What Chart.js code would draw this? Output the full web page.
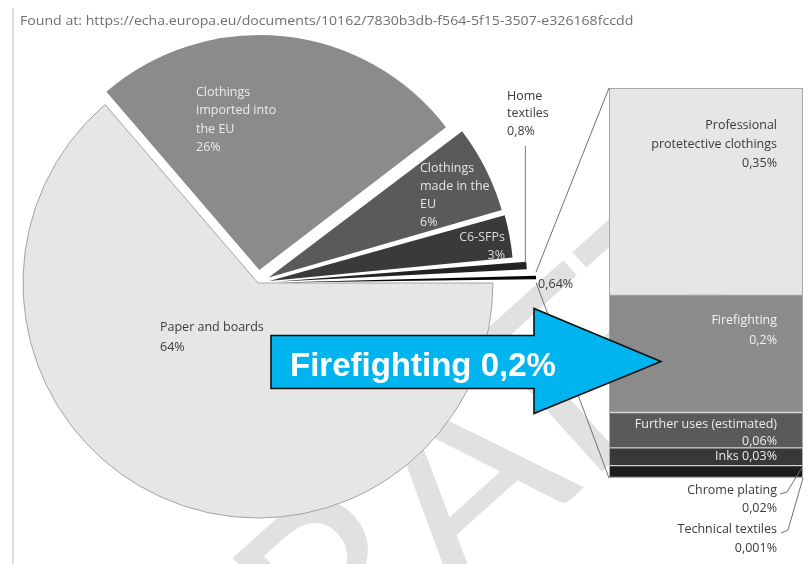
<!DOCTYPE html>
<html>
<head>
<meta charset="utf-8">
<script src="https://cdn.jsdelivr.net/npm/chart.js@4.4.1/dist/chart.umd.min.js"></script>
<style>
  html, body { margin: 0; padding: 0; background: #fff; }
  #wrap { position: relative; width: 811px; height: 564px; overflow: hidden; }
  #wrap canvas { position: absolute; left: 0; top: 0; }
  #rule { position: absolute; left: 12px; top: 8px; bottom: 0; width: 2px; background: #dddddd; }
  #src { position: absolute; left: 20px; top: 11px; font: 13px "Open Sans"; color: #707070;
         white-space: nowrap; transform-origin: 0 0; }
</style>
</head>
<body>
<div id="wrap">
  <canvas id="pie" width="811" height="564"></canvas>
  <canvas id="bar" width="811" height="564"></canvas>
  <div id="rule"></div>
  <div id="src">Found at: https://echa.europa.eu/documents/10162/7830b3db-f564-5f15-3507-e326168fccdd</div>
</div>
<script>
// pie: share of uses, %
const pieLabels = ['Paper and boards', 'Clothings imported into the EU', 'Clothings made in the EU', 'C6-SFPs', 'Home textiles', 'Other'];
const pieValues = [64, 26, 6, 3, 0.8, 0.64];
const pieText = [
  ['Paper and boards', '64%'],
  ['Clothings', 'imported into', 'the EU', '26%'],
  ['Clothings', 'made in the', 'EU', '6%'],
  ['C6-SFPs', '3%'],
  ['Home', 'textiles', '0,8%'],
  ['0,64%']
];
const pieColors = ['#e6e6e6', '#8b8b8b', '#5a5a5a', '#3a3a3a', '#232323', '#070707'];
const pieOffsets = [0, 52, 48, 46, 70, 88];

// bar: breakdown of the 0,64% slice, bottom to top
const barLabels = ['Technical textiles', 'Chrome plating', 'Inks', 'Further uses (estimated)', 'Firefighting', 'Professional protetective clothings'];
const barValues = [0.001, 0.02, 0.03, 0.06, 0.2, 0.35];
const barText = [
  ['Technical textiles', '0,001%'],
  ['Chrome plating', '0,02%'],
  ['Inks 0,03%'],
  ['Further uses (estimated)', '0,06%'],
  ['Firefighting', '0,2%'],
  ['Professional', 'protetective clothings', '0,35%']
];
const barColors = ['#0a0a0a', '#1c1c1c', '#383838', '#5a5a5a', '#8b8b8b', '#e6e6e6'];

const FONT = '12.5px "Open Sans"';
let pieChart = null;

const src = document.getElementById('src');
src.style.transform = 'scaleX(' + (613 / src.offsetWidth) + ')';

function drawLines(ctx, lines, x, y, lh, align, color) {
  ctx.font = FONT;
  ctx.textAlign = align;
  ctx.textBaseline = 'middle';
  ctx.fillStyle = color;
  lines.forEach((t, i) => ctx.fillText(t, x, y + i * lh));
}

// point on an exploded arc (v4 shifts by offset/4 and grows the radius a bit)
function arcPoint(arc, angle, extra) {
  const shift = (arc.options.offset || 0) / 4;
  const circ = arc.endAngle - arc.startAngle;
  const fix = 1 - Math.sin(Math.min(Math.PI, circ));
  const mid = (arc.startAngle + arc.endAngle) / 2;
  const r = arc.outerRadius + shift * fix + (extra || 0);
  return {
    x: arc.x + Math.cos(mid) * shift + Math.cos(angle) * r,
    y: arc.y + Math.sin(mid) * shift + Math.sin(angle) * r
  };
}

const watermark = {
  id: 'watermark',
  beforeDatasetsDraw(chart) {
    const ctx = chart.ctx;
    ctx.save();
    ctx.translate(445, 505);
    ctx.rotate(-42 * Math.PI / 180);
    ctx.font = '255px Lato';
    ctx.fillStyle = '#e1e1e1';
    ctx.textAlign = 'center';
    ctx.textBaseline = 'alphabetic';
    ctx.fillText('DRAFT', 0, 80);
    ctx.restore();
  }
};

const pieLabelsPlugin = {
  id: 'pieLabels',
  afterDatasetsDraw(chart) {
    const ctx = chart.ctx;
    const arcs = chart.getDatasetMeta(0).data;
    ctx.save();
    drawLines(ctx, pieText[0], 160, 327, 20, 'left', '#3c3c3c');
    drawLines(ctx, pieText[1], 196, 92, 18.6, 'left', '#ececec');
    drawLines(ctx, pieText[2], 420, 168, 18, 'left', '#e4e4e4');
    drawLines(ctx, pieText[3], 505, 237, 18, 'right', '#dcdcdc');
    drawLines(ctx, pieText[4], 507, 96, 17.5, 'left', '#3c3c3c');

    // leader from the home textiles label to its slice
    const home = arcs[4];
    const hp = arcPoint(home, home.startAngle + (home.endAngle - home.startAngle) * 0.3, 0);
    ctx.strokeStyle = '#7a7a7a';
    ctx.lineWidth = 1;
    ctx.beginPath();
    ctx.moveTo(hp.x - 1, 146);
    ctx.lineTo(hp.x - 1, hp.y);
    ctx.stroke();

    const other = arcs[5];
    const op = arcPoint(other, other.endAngle, 2);
    drawLines(ctx, pieText[5], op.x, op.y + 2, 18, 'left', '#3c3c3c');
    ctx.restore();
  }
};

const barOverlay = {
  id: 'barOverlay',
  afterDraw(chart) {
    const ctx = chart.ctx;
    const seg = barLabels.map((l, i) => {
      const el = chart.getDatasetMeta(i).data[0];
      return { top: el.y, bottom: el.base, left: el.x - el.width / 2, right: el.x + el.width / 2 };
    });
    const barTop = seg[seg.length - 1].top;
    const barBottom = seg[0].bottom;
    const barLeft = seg[0].left;
    const barRight = seg[0].right;
    const tx = barRight - 26;

    ctx.save();
    // outline of the bar
    ctx.strokeStyle = '#a8a8a8';
    ctx.lineWidth = 1;
    ctx.strokeRect(barLeft + 0.5, barTop + 0.5, barRight - barLeft - 1, barBottom - barTop - 1);

    // connectors from the small slice to the bar
    const other = pieChart.getDatasetMeta(0).data[5];
    const p1 = arcPoint(other, other.startAngle, 0);
    const p2 = arcPoint(other, other.endAngle, 0);
    ctx.strokeStyle = '#6f6f6f';
    ctx.beginPath();
    ctx.moveTo(p1.x, p1.y);
    ctx.lineTo(barLeft, barTop);
    ctx.moveTo(p2.x, p2.y);
    ctx.lineTo(barLeft, barBottom);
    ctx.stroke();

    // labels inside the bar
    drawLines(ctx, barText[5], tx, seg[5].top + 37, 19, 'right', '#3a3a3a');
    drawLines(ctx, barText[4], tx, seg[4].top + 26, 20, 'right', '#f2f2f2');
    drawLines(ctx, barText[3], tx, seg[3].top + 12, 17, 'right', '#ececec');
    drawLines(ctx, barText[2], tx, (seg[2].top + seg[2].bottom) / 2, 17, 'right', '#ececec');
    // labels below the bar
    drawLines(ctx, barText[1], tx, barBottom + 12, 18, 'right', '#3a3a3a');
    drawLines(ctx, barText[0], tx, barBottom + 51, 19, 'right', '#3a3a3a');

    ctx.strokeStyle = '#6f6f6f';
    ctx.beginPath();
    ctx.moveTo(tx + 3, barBottom + 16);
    ctx.lineTo(tx + 10, barBottom + 14);
    ctx.lineTo(barRight - 1, seg[1].top + 2);
    ctx.moveTo(tx + 4, barBottom + 55);
    ctx.lineTo(tx + 11, barBottom + 52);
    ctx.lineTo(barRight, barBottom);
    ctx.stroke();

    // blue arrow pointing at the firefighting segment
    const ff = seg[4];
    const tipX = ff.left + 52;
    const tipY = (ff.top + ff.bottom) / 2 + 8;
    const headX = 534, bodyLeft = 271;
    ctx.beginPath();
    ctx.moveTo(bodyLeft, tipY - 26);
    ctx.lineTo(headX, tipY - 26);
    ctx.lineTo(headX, tipY - 53);
    ctx.lineTo(tipX, tipY);
    ctx.lineTo(headX, tipY + 52);
    ctx.lineTo(headX, tipY + 27);
    ctx.lineTo(bodyLeft, tipY + 27);
    ctx.closePath();
    ctx.fillStyle = '#00b4f0';
    ctx.fill();
    ctx.strokeStyle = '#111111';
    ctx.lineWidth = 1.6;
    ctx.stroke();

    ctx.font = 'bold 33px "Liberation Sans"';
    ctx.fillStyle = '#ffffff';
    ctx.textAlign = 'left';
    ctx.textBaseline = 'alphabetic';
    ctx.fillText('Firefighting 0,2%', 290, tipY + 14);
    ctx.restore();
  }
};

pieChart = new Chart(document.getElementById('pie'), {
  type: 'pie',
  data: {
    labels: pieLabels,
    datasets: [{
      data: pieValues,
      backgroundColor: pieColors,
      borderColor: ['#a3a3a3', '#8b8b8b', '#5a5a5a', '#3a3a3a', '#232323', '#070707'],
      borderWidth: [1, 0, 0, 0, 0, 0],
      offset: pieOffsets,
      rotation: 90,
      radius: 235
    }]
  },
  options: {
    responsive: false,
    animation: false,
    events: [],
    layout: { padding: { left: 0, right: 295, top: 2, bottom: 0 } },
    plugins: { legend: { display: false }, tooltip: { enabled: false } }
  },
  plugins: [watermark, pieLabelsPlugin]
});

const barTotal = barValues.reduce((a, b) => a + b, 0);

new Chart(document.getElementById('bar'), {
  type: 'bar',
  data: {
    labels: [''],
    datasets: barLabels.map((l, i) => ({
      label: l,
      data: [barValues[i]],
      backgroundColor: barColors[i],
      borderColor: '#cfcfcf',
      borderWidth: 1,
      borderSkipped: false,
      categoryPercentage: 1,
      barPercentage: 1
    }))
  },
  options: {
    responsive: false,
    animation: false,
    events: [],
    layout: { padding: { left: 609, right: 8, top: 88, bottom: 86 } },
    scales: {
      x: { display: false, stacked: true },
      y: { display: false, stacked: true, min: 0, max: barTotal }
    },
    plugins: { legend: { display: false }, tooltip: { enabled: false } }
  },
  plugins: [barOverlay]
});
</script>
</body>
</html>
